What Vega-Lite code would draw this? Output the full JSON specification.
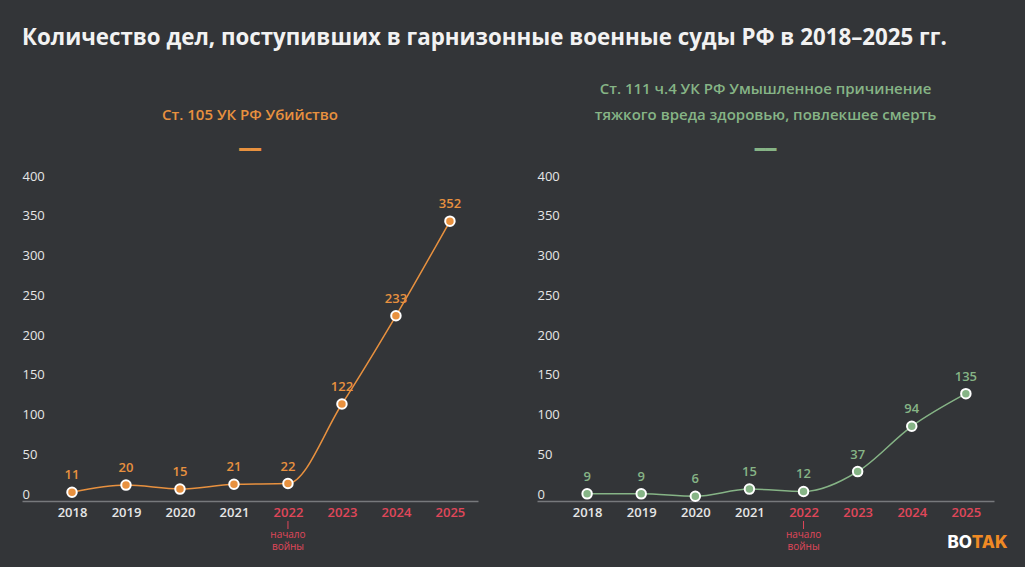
{
  "$schema": "https://vega.github.io/schema/vega-lite/v6.json",
  "background": "#333538",
  "padding": {"left": 22, "top": 26, "right": 30, "bottom": 17},
  "title": {
    "text": "Количество дел, поступивших в гарнизонные военные суды РФ в 2018–2025 гг.",
    "anchor": "start",
    "color": "#f2f2f2",
    "fontSize": 22.3,
    "font": "Open Sans",
    "fontWeight": "bold",
    "offset": 33,
    "frame": "bounds"
  },
  "datasets": {
    "murder": [
      {"year": 2018, "value": 11},
      {"year": 2019, "value": 20},
      {"year": 2020, "value": 15},
      {"year": 2021, "value": 21},
      {"year": 2022, "value": 22},
      {"year": 2023, "value": 122},
      {"year": 2024, "value": 233},
      {"year": 2025, "value": 352}
    ],
    "harm": [
      {"year": 2018, "value": 9},
      {"year": 2019, "value": 9},
      {"year": 2020, "value": 6},
      {"year": 2021, "value": 15},
      {"year": 2022, "value": 12},
      {"year": 2023, "value": 37},
      {"year": 2024, "value": 94},
      {"year": 2025, "value": 135}
    ]
  },
  "config": {
    "view": {"stroke": null},
    "font": "Open Sans",
    "axisX": {
      "title": null,
      "grid": false,
      "ticks": false,
      "tickSize": 0,
      "domainColor": "#77797c",
      "domainWidth": 1.5,
      "labelFontSize": 13,
      "labelPadding": 5,
      "labelFontWeight": 600
    },
    "axisY": {
      "title": null,
      "grid": false,
      "ticks": false,
      "tickSize": 0,
      "domain": false,
      "labelAlign": "left",
      "labelPadding": 0,
      "labelBaseline": "alphabetic",
      "labelOffset": -3,
      "labelFontSize": 13,
      "labelColor": "#e6e6e6"
    },
    "title": {
      "anchor": "middle",
      "fontSize": 15,
      "fontWeight": 600,
      "lineHeight": 26,
      "offset": 10,
      "subtitleFont": "DejaVu Sans Mono",
      "subtitleFontSize": 18,
      "subtitlePadding": 19,
      "frame": "group"
    }
  },
  "spacing": 59,
  "hconcat": [
    {
      "width": 456,
      "height": 318,
      "title": {"text": "Ст. 105 УК РФ Убийство", "subtitle": "━━", "color": "#e8913f", "subtitleColor": "#e8913f"},
      "data": {"name": "murder"},
      "encoding": {
        "x": {"field": "year", "type": "quantitative", "scale": {"domain": [2017.074, 2025.52], "nice": false, "zero": false},
              "axis": {"values": [2018, 2019, 2020, 2021, 2022, 2023, 2024, 2025], "format": "d", "labelColor": {"expr": "datum.value >= 2022 ? '#e0475a' : '#e6e6e6'"}}},
        "y": {"field": "value", "type": "quantitative", "scale": {"domain": [0, 400], "nice": false},
              "axis": {"values": [0, 50, 100, 150, 200, 250, 300, 350, 400]}}
      },
      "layer": [
        {"mark": {"type": "line", "interpolate": "monotone", "color": "#e8913f", "strokeWidth": 1.5}},
        {"mark": {"type": "point", "filled": true, "fill": "#e8913f", "stroke": "#ffffff", "strokeWidth": 2, "size": 90, "opacity": 1}},
        {"mark": {"type": "text", "dy": -17, "color": "#e8913f", "fontSize": 13, "fontWeight": 600}, "encoding": {"text": {"field": "value"}}},
        {
          "data": {"values": [{"year": 2022, "value": 0}]},
          "mark": {"type": "rule", "yOffset": 20, "y2Offset": 28, "color": "#e0475a", "strokeWidth": 1},
          "encoding": {"y2": {"field": "value"}}
        },
        {
          "data": {"values": [{"year": 2022, "value": 0, "note": "начало"}]},
          "mark": {"type": "text", "baseline": "middle", "dy": 34, "fontSize": 10, "color": "#e0475a"},
          "encoding": {"text": {"field": "note"}}
        },
        {
          "data": {"values": [{"year": 2022, "value": 0, "note": "войны"}]},
          "mark": {"type": "text", "baseline": "middle", "dy": 46, "fontSize": 10, "color": "#e0475a"},
          "encoding": {"text": {"field": "note"}}
        }
      ]
    },
    {
      "width": 457,
      "height": 318,
      "title": {"text": ["Ст. 111 ч.4 УК РФ Умышленное причинение", "тяжкого вреда здоровью, повлекшее смерть"], "subtitle": "━━", "color": "#86b486", "subtitleColor": "#86b486"},
      "data": {"name": "harm"},
      "encoding": {
        "x": {"field": "year", "type": "quantitative", "scale": {"domain": [2017.074, 2025.52], "nice": false, "zero": false},
              "axis": {"values": [2018, 2019, 2020, 2021, 2022, 2023, 2024, 2025], "format": "d", "labelColor": {"expr": "datum.value >= 2022 ? '#e0475a' : '#e6e6e6'"}}},
        "y": {"field": "value", "type": "quantitative", "scale": {"domain": [0, 400], "nice": false},
              "axis": {"values": [0, 50, 100, 150, 200, 250, 300, 350, 400]}}
      },
      "layer": [
        {"mark": {"type": "line", "interpolate": "monotone", "color": "#86b486", "strokeWidth": 1.5}},
        {"mark": {"type": "point", "filled": true, "fill": "#86b486", "stroke": "#ffffff", "strokeWidth": 2, "size": 90, "opacity": 1}},
        {"mark": {"type": "text", "dy": -17, "color": "#86b486", "fontSize": 13, "fontWeight": 600}, "encoding": {"text": {"field": "value"}}},
        {
          "data": {"values": [{"year": 2022, "value": 0}]},
          "mark": {"type": "rule", "yOffset": 20, "y2Offset": 28, "color": "#e0475a", "strokeWidth": 1},
          "encoding": {"y2": {"field": "value"}}
        },
        {
          "data": {"values": [{"year": 2022, "value": 0, "note": "начало"}]},
          "mark": {"type": "text", "baseline": "middle", "dy": 34, "fontSize": 10, "color": "#e0475a"},
          "encoding": {"text": {"field": "note"}}
        },
        {
          "data": {"values": [{"year": 2022, "value": 0, "note": "войны"}]},
          "mark": {"type": "text", "baseline": "middle", "dy": 46, "fontSize": 10, "color": "#e0475a"},
          "encoding": {"text": {"field": "note"}}
        },
        {
          "data": {"values": [{"year": 2025, "value": 0, "logo": "BO"}]},
          "mark": {"type": "text", "align": "right", "baseline": "middle", "dx": 6, "dy": 42, "fontSize": 17, "fontWeight": 800, "font": "Inter", "color": "#ffffff"},
          "encoding": {"text": {"field": "logo"}}
        },
        {
          "data": {"values": [{"year": 2025, "value": 0, "logo": "TAK"}]},
          "mark": {"type": "text", "align": "left", "baseline": "middle", "dx": 6, "dy": 42, "fontSize": 17, "fontWeight": 800, "font": "Inter", "color": "#f08a24"},
          "encoding": {"text": {"field": "logo"}}
        }
      ]
    }
  ]
}
